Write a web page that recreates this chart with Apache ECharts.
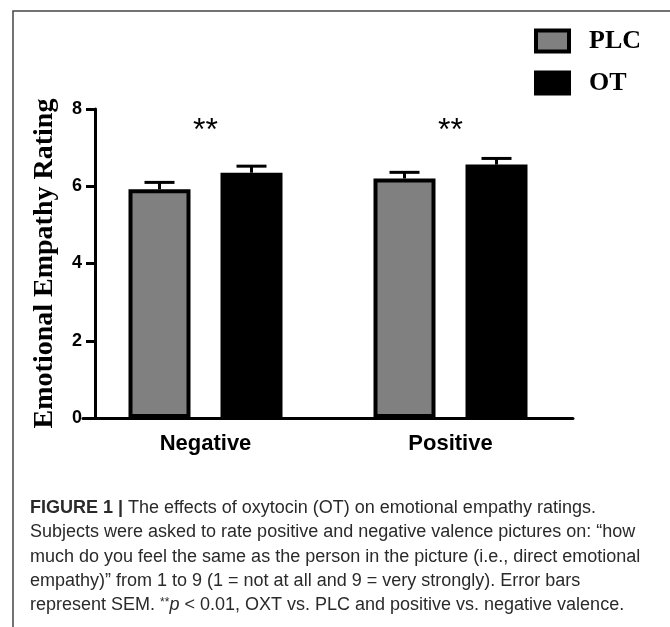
<!DOCTYPE html>
<html>
<head>
<meta charset="utf-8">
<script src="https://cdn.jsdelivr.net/npm/echarts@6/dist/echarts.min.js"></script>
<style>
  html, body { margin: 0; padding: 0; background: #fff; }
  #chart { width: 670px; height: 627px; }
</style>
</head>
<body>
<div id="chart"></div>
<script>
// ---- data ----
const categories = ['Negative', 'Positive'];
const seriesNames = ['PLC', 'OT'];
const plcMean = [5.92, 6.20];
const plcSem = [0.18, 0.16];
const otMean = [6.35, 6.56];
const otSem = [0.17, 0.16];
const yTickLabels = ['0', '2', '4', '6', '8'];
const sigLabels = ['**', '**'];
const yAxisTitle = 'Emotional Empathy Rating';
const captionLines = [
  '{b|FIGURE 1 |} The effects of oxytocin (OT) on emotional empathy ratings.',
  'Subjects were asked to rate positive and negative valence pictures on: \u201chow',
  'much do you feel the same as the person in the picture (i.e., direct emotional',
  'empathy)\u201d from 1 to 9 (1 = not at all and 9 = very strongly). Error bars',
  'represent SEM. {s|**}{i|p} < 0.01, OXT vs. PLC and positive vs. negative valence.'
];

// ---- style ----
const BAR_W = 62;
const BAR_GAP = 30 / 62;
const BORDER = 4;
const SIG_LEVEL = 7.42;
const SANS = 'Liberation Sans, Arial, sans-serif';
const SERIF = 'Liberation Serif, Times New Roman, serif';
const GRID_LEFT = 83, GRID_W = 490, GRID_TOP = 109, GRID_BOTTOM = 209;
const CAP_SIZE = 18;
const CAP_COLOR = '#2a2a2a';

const chart = echarts.init(document.getElementById('chart'), null, { renderer: 'canvas' });

function errorSeries(name, means, sems, sign) {
  return {
    type: 'custom',
    name: name,
    z: 5,
    data: categories.map((c, i) => [i, means[i], sems[i]]),
    encode: { x: 0, y: 1 },
    renderItem: function (params, api) {
      const idx = api.value(0);
      const m = api.value(1);
      const s = api.value(2);
      const off = sign * BAR_W * (1 + BAR_GAP) / 2;
      const pBase = api.coord([idx, m]);
      const pTop = api.coord([idx, m + s]);
      const x = pBase[0] + off;
      const capHalf = 15;
      const st = { stroke: '#000', lineWidth: 3 };
      return {
        type: 'group',
        children: [
          { type: 'line', shape: { x1: x, y1: pBase[1], x2: x, y2: pTop[1] }, style: st },
          { type: 'line', shape: { x1: x - capHalf, y1: pTop[1], x2: x + capHalf, y2: pTop[1] }, style: st }
        ]
      };
    }
  };
}

const option = {
  animation: false,
  backgroundColor: '#fff',
  grid: { left: GRID_LEFT, width: GRID_W, top: GRID_TOP, bottom: GRID_BOTTOM, containLabel: false },
  legend: {
    orient: 'vertical',
    left: 534,
    top: 28,
    padding: 0,
    itemGap: 16,
    itemWidth: 33,
    itemHeight: 21,
    icon: 'rect',
    data: seriesNames,
    itemStyle: { borderColor: '#000', borderWidth: BORDER },
    textStyle: { fontFamily: SERIF, fontWeight: 'bold', fontSize: 26, color: '#000', padding: [0, 0, 0, 15] },
    selectedMode: false
  },
  xAxis: {
    type: 'category',
    data: categories,
    axisLine: { lineStyle: { color: '#000', width: 3 } },
    axisTick: { alignWithLabel: true, length: 8, lineStyle: { color: '#000', width: 3 } },
    axisLabel: { margin: 15, fontFamily: SANS, fontWeight: 'bold', fontSize: 22, color: '#000' },
    splitLine: { show: false }
  },
  yAxis: {
    type: 'value',
    min: 0,
    max: 8,
    interval: 2,
    offset: -(95 - GRID_LEFT),
    name: yAxisTitle,
    nameLocation: 'middle',
    nameGap: 36,
    nameTextStyle: { fontFamily: SERIF, fontWeight: 'bold', fontSize: 28, color: '#000' },
    axisLine: { show: true, lineStyle: { color: '#000', width: 3 } },
    axisTick: { show: true, length: 9, lineStyle: { color: '#000', width: 3 } },
    axisLabel: {
      margin: 13, fontFamily: SANS, fontWeight: 'bold', fontSize: 18, color: '#000',
      formatter: function (v) { return yTickLabels[Math.round(v / 2)]; }
    },
    splitLine: { show: false }
  },
  series: [
    {
      type: 'bar', name: seriesNames[0], data: plcMean,
      barWidth: BAR_W, barGap: (BAR_GAP * 100) + '%',
      itemStyle: { color: '#808080', borderColor: '#000', borderWidth: BORDER }
    },
    {
      type: 'bar', name: seriesNames[1], data: otMean,
      barWidth: BAR_W, barGap: (BAR_GAP * 100) + '%',
      itemStyle: { color: '#000', borderColor: '#000', borderWidth: BORDER }
    },
    errorSeries('PLC SEM', plcMean, plcSem, -1),
    errorSeries('OT SEM', otMean, otSem, 1),
    {
      type: 'custom',
      name: 'sig',
      z: 6,
      data: categories.map((c, i) => [i, SIG_LEVEL]),
      encode: { x: 0, y: 1 },
      renderItem: function (params, api) {
        const p = api.coord([api.value(0), api.value(1)]);
        return {
          type: 'text',
          x: p[0], y: p[1],
          style: {
            text: sigLabels[params.dataIndex],
            fontFamily: SANS, fontSize: 32, fill: '#000',
            align: 'center', verticalAlign: 'middle'
          }
        };
      }
    }
  ],
  graphic: [
    {
      type: 'polyline',
      shape: { points: [[13, 627], [13, 11], [670, 11]] },
      style: { stroke: '#444', lineWidth: 1.5, fill: null },
      silent: true
    }
  ].concat(captionLines.map((line, i) => ({
    type: 'text',
    x: 30,
    y: 508 + i * 24.3,
    style: {
      text: line,
      fontFamily: SANS,
      fontSize: CAP_SIZE,
      fill: CAP_COLOR,
      verticalAlign: 'middle',
      rich: {
        b: { fontFamily: SANS, fontSize: CAP_SIZE, fontWeight: 'bold', fill: CAP_COLOR },
        i: { fontFamily: SANS, fontSize: CAP_SIZE, fontStyle: 'italic', fill: CAP_COLOR },
        s: { fontFamily: SANS, fontSize: 12, fill: CAP_COLOR, verticalAlign: 'top' }
      }
    }
  })))
};

chart.setOption(option);
</script>
</body>
</html>
